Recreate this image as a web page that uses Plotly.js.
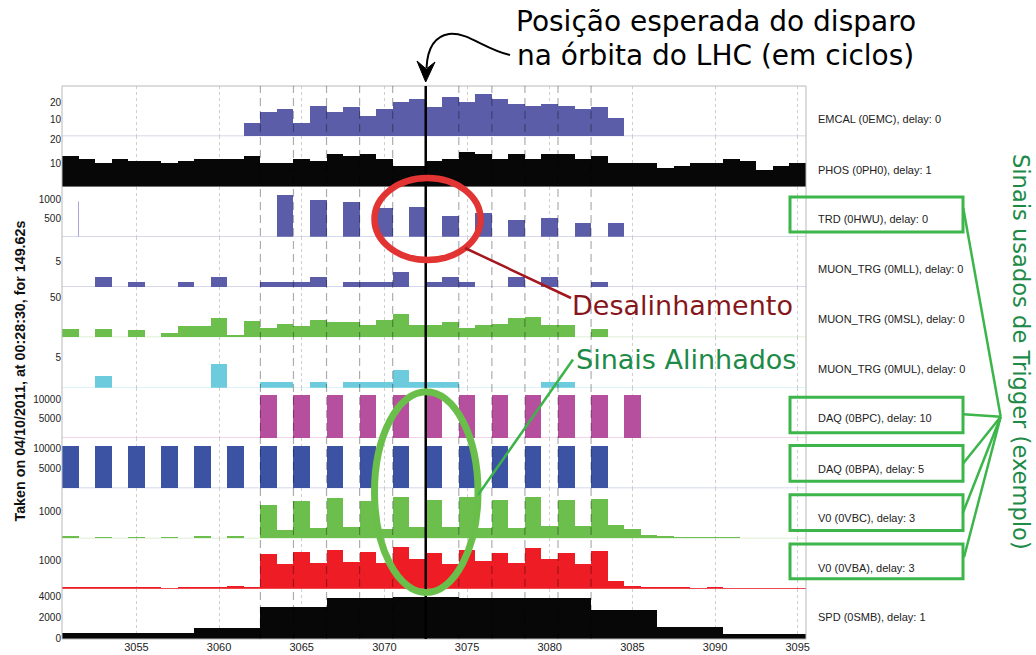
<!DOCTYPE html>
<html>
<head>
<meta charset="utf-8">
<script src="https://cdn.plot.ly/plotly-3.0.1.min.js"></script>
<style>
html,body{margin:0;padding:0;background:#ffffff;}
#chart{width:1036px;height:655px;}
</style>
</head>
<body>
<div id="chart"></div>
<script>
// ---------------- DATA ----------------
const cycles = [3051,3052,3053,3054,3055,3056,3057,3058,3059,3060,3061,3062,3063,3064,3065,3066,3067,3068,3069,3070,3071,3072,3073,3074,3075,3076,3077,3078,3079,3080,3081,3082,3083,3084,3085,3086,3087,3088,3089,3090,3091,3092,3093,3094,3095];
const xTicks = [3055,3060,3065,3070,3075,3080,3085,3090,3095];

const emcal   = [0,0,0,0,0,0,0,0,0,0, 0,8,14,16,8,18,14,17,12,16, 20,22,17,23,20,25,22,19,18,19, 18,16,17,11,0,0,0,0,0,0, 0,0,0,0,0];
const phos    = [13,12,10,12,11,11,10,11,12,12, 12,13,10,10,12,11,14,13,14,12, 9,9,11,12,15,14,12,14,12,14, 14,12,13,10,10,10,8,9,10,10, 12,11,7,9,10];
const trd     = [0,0,0,0,0,0,0,0,0,0, 0,0,0,1115,0,975,0,940,0,765, 0,790,0,560,0,630,0,450,0,500, 0,370,0,375,0,0,0,0,0,0, 0,0,0,0,0];
const trdSpikeX = [3051.5, 3051.5];
const trdSpikeY = [0, 940];
const muonMLL = [0,0,2,0,1,0,0,1,0,2, 0,0,1,1,1,2,0,1,1,1, 3,0,1,2,1,0,0,2,0,2, 0,0,1,0,0,0,0,0,0,0, 0,0,0,0,0];
const muonMSL = [11,0,11,0,9,0,6,14,14,24, 3,20,12,17,14,22,19,19,16,22, 30,15,15,19,12,15,17,25,26,16, 16,1,11,0,1,1,0,0,0,0, 0,0,0,0,0];
const muonMUL = [0,0,2,0,0,0,0,0,0,4, 0,0,1,1,0,1,0,1,1,1, 3,1,1,1,0,0,0,0,0,1, 1,0,0,0,0,0,0,0,0,0, 0,0,0,0,0];
const daqBPC  = [0,0,0,0,0,0,0,0,0,0, 0,0,11100,0,11100,0,11100,0,11100,0, 11100,0,11100,0,11100,0,11100,0,11100,0, 11100,0,11100,0,11100,0,0,0,0,0, 0,0,0,0,0];
const daqBPA  = [10575,0,10575,0,10575,0,10575,0,10575,0, 10575,0,10575,0,10575,0,10575,0,10575,0, 10575,0,10575,0,10575,0,10575,0,10575,0, 10575,0,10575,0,0,0,0,0,0,0, 0,0,0,0,0];
const v0VBC   = [75,12,50,10,50,10,50,10,75,10, 90,10,1250,325,1400,375,1510,425,1400,350, 1560,425,1425,425,1550,400,1425,400,1560,460, 1425,460,1460,490,340,140,90,60,50,50, 40,30,30,30,30];
const v0VBA   = [72,48,48,60,60,48,36,60,60,60, 84,60,1230,890,1310,930,1385,950,1300,915, 1495,1050,1290,890,1400,1005,1278,920,1470,1050, 1290,870,1360,265,96,72,48,48,36,48, 36,36,36,36,36];
const spd     = [590,590,590,590,560,560,560,560,990,990, 990,990,2960,2960,2960,2960,3850,3850,3850,3850, 3880,3880,3880,3880,3850,3850,3850,3850,3850,3850, 3850,3850,2680,2680,2680,2680,1080,1080,1080,1080, 510,510,510,510,510];

const panelLabels = [
  "EMCAL (0EMC), delay: 0",
  "PHOS (0PH0), delay: 1",
  "TRD (0HWU), delay: 0",
  "MUON_TRG (0MLL), delay: 0",
  "MUON_TRG (0MSL), delay: 0",
  "MUON_TRG (0MUL), delay: 0",
  "DAQ (0BPC), delay: 10",
  "DAQ (0BPA), delay: 5",
  "V0 (0VBC), delay: 3",
  "V0 (0VBA), delay: 3",
  "SPD (0SMB), delay: 1"
];
const yTickVals = [[10,20],[10,20],[500,1000],[5],[50],[5],[5000,10000],[5000,10000],[1000],[1000],[0,2000,4000]];
const yTickText = [["10","20"],["10","20"],["500","1000"],["5"],["50"],["5"],["5000","10000"],["5000","10000"],["1000"],["1000"],["0","2000","4000"]];
const boundaryMarks = [3062.5,3064.5,3066.5,3068.5,3070.5,3074.5,3076.5,3078.5,3080.5,3082.5];
const expectedTrigger = 3072.5;

const titleLine1 = "Posição esperada do disparo";
const titleLine2 = "na órbita do LHC (em ciclos)";
const misalignText = "Desalinhamento";
const alignText = "Sinais Alinhados";
const triggerText = "Sinais usados de Trigger (exemplo)";
const takenText = "Taken on 04/10/2011, at 00:28:30, for 149.62s";

// ---------------- STYLE / LAYOUT ----------------
const series = [emcal, phos, trd, muonMLL, muonMSL, muonMUL, daqBPC, daqBPA, v0VBC, v0VBA, spd];
const colors = ['#5b5da8','#070707','#5b5da8','#5b5da8','#6cbf4c','#6ccbdc','#b6509e','#3c53a3','#6cbf4c','#ee1c25','#070707'];
const baseColors = ['#cbcbe6','#bbbbbb','#cbcbe6','#cbcbe6','#d3eacb','#d2eff5','#ecc9e3','#c6cde6','#d3eacb','#f6c6c6','#bbbbbb'];
const yRanges = [[0,29.5],[0,21.6],[0,1340],[0,9.9],[0,63.3],[0,8.4],[0,13020],[0,12600],[0,1876],[0,1795],[0,4700]];
const labelY = [119.3,170,219,269,319.3,369,418,469,518.3,568.3,617.3];

const L = 62, T = 86, W = 744, H = 553;
const px = v => (v - L) / W;
const py = v => (T + H - v) / H;
const yId = i => i === 0 ? 'y' : 'y' + (i + 1);
const yKey = i => i === 0 ? 'yaxis' : 'yaxis' + (i + 1);
const n = series.length;

const traces = series.map((s, i) => ({
  type: 'bar', x: cycles, y: s, xaxis: 'x', yaxis: yId(i), width: 1,
  marker: {color: colors[i], line: {width: 0}},
  hoverinfo: 'skip', showlegend: false
}));
traces.push({type:'scatter', mode:'lines', x: trdSpikeX, y: trdSpikeY, xaxis:'x', yaxis:'y3',
  line:{color:'#a3a5d4', width:1}, hoverinfo:'skip', showlegend:false});

const layout = {
  width: 1036, height: 655,
  margin: {l: L, r: 1036 - L - W, t: T, b: 655 - T - H, pad: 0},
  paper_bgcolor: '#ffffff', plot_bgcolor: 'rgba(0,0,0,0)',
  bargap: 0, showlegend: false,
  font: {family: 'Liberation Sans, Arial, sans-serif', color: '#222'},
  xaxis: {
    range: [3050.5, 3095.5], anchor: 'y11', domain: [0, 1],
    tickvals: xTicks, ticktext: xTicks.map(String), ticks: '',
    showgrid: true, gridcolor: '#cfcfcf', griddash: 'dot', gridwidth: 1,
    zeroline: false, showline: false,
    tickfont: {family: 'Liberation Sans, Arial, sans-serif', size: 11, color: '#222'},
    fixedrange: true
  },
  shapes: [], annotations: []
};

for (let i = 0; i < n; i++) {
  layout[yKey(i)] = {
    domain: [1 - (i + 1) / n, 1 - i / n], range: yRanges[i], anchor: 'x',
    tickvals: yTickVals[i], ticktext: yTickText[i], ticks: '',
    showgrid: false, zeroline: false, showline: false, fixedrange: true,
    tickfont: {family: 'Liberation Sans, Arial, sans-serif', size: 10, color: '#222'}
  };
  layout.shapes.push({type:'line', xref:'paper', yref:yId(i), x0:0, x1:1, y0:0, y1:0,
    line:{color: baseColors[i], width: 1.5}, layer:'below'});
  layout.annotations.push({text: panelLabels[i], xref:'paper', yref:'paper',
    x: px(816.5), y: py(labelY[i]), xanchor:'left', yanchor:'middle', showarrow:false, borderpad:0,
    font:{family:'Liberation Sans, Arial, sans-serif', size:11, color:'#222'}});
}

// frame
layout.shapes.push({type:'rect', xref:'paper', yref:'paper', x0:0, x1:1, y0:0, y1:1,
  line:{color:'#b8b8b8', width:1}, layer:'above'});
// bunch boundaries
boundaryMarks.forEach(b => layout.shapes.push({type:'line', xref:'x', yref:'paper', x0:b, x1:b, y0:0, y1:1,
  line:{color:'rgba(0,0,0,0.32)', width:1.2, dash:'8px,5px'}, layer:'above'}));
// expected trigger position
layout.shapes.push({type:'line', xref:'x', yref:'paper', x0:expectedTrigger, x1:expectedTrigger, y0:0, y1:1,
  line:{color:'#000', width:2.5}});

// red ellipse + connector
layout.shapes.push({type:'circle', xref:'paper', yref:'paper', x0:px(374.5), x1:px(480.5), y0:py(260), y1:py(178),
  line:{color:'#e23432', width:6.5}});
layout.shapes.push({type:'line', xref:'paper', yref:'paper', x0:px(465), y0:py(248), x1:px(571), y1:py(298),
  line:{color:'#a3171f', width:2.5}});
// green ellipse + connector
layout.shapes.push({type:'circle', xref:'paper', yref:'paper', x0:px(374.5), x1:px(478), y0:py(592.5), y1:py(391.8),
  line:{color:'#6abf4b', width:7}});
layout.shapes.push({type:'line', xref:'paper', yref:'paper', x0:px(478), y0:py(495), x1:px(573), y1:py(359.5),
  line:{color:'#3cb44a', width:2.5}});

// green boxes + connectors
const boxY = [[197,232],[397.3,432.8],[445.5,481.3],[494.7,530.5],[544,578.8]];
const boxLineStart = [[963.3,208.3],[963.3,414.3],[963.3,463.3],[962.7,513.3],[964,557.3]];
const hub = [1000.7, 416.7];
boxY.forEach(b => layout.shapes.push({type:'rect', xref:'paper', yref:'paper', x0:px(790), x1:px(963), y0:py(b[1]), y1:py(b[0]),
  line:{color:'#3cb54a', width:3}}));
boxLineStart.forEach(s => layout.shapes.push({type:'line', xref:'paper', yref:'paper', x0:px(s[0]), y0:py(s[1]), x1:px(hub[0]), y1:py(hub[1]),
  line:{color:'#3cb54a', width:2.5}}));

// curved arrow
const P = (x, y) => px(x) + ',' + py(y);
layout.shapes.push({type:'path', xref:'paper', yref:'paper',
  path: 'M ' + P(510,55) + ' C ' + P(484,49) + ' ' + P(468,32) + ' ' + P(449,34) + ' C ' + P(436,36) + ' ' + P(427.5,47) + ' ' + P(426.5,68),
  line:{color:'#000', width:2}});
layout.shapes.push({type:'path', xref:'paper', yref:'paper',
  path: 'M ' + P(425.7,82) + ' L ' + P(417,61) + ' L ' + P(426.3,69) + ' L ' + P(435,62) + ' Z',
  fillcolor:'#000', line:{color:'#000', width:1}});

// texts
const big = {family:'DejaVu Sans, Verdana, sans-serif', size:28, color:'#000'};
layout.annotations.push({text:titleLine1, xref:'paper', yref:'paper', x:px(515), y:py(21.5), xanchor:'left', yanchor:'middle', showarrow:false, borderpad:0, font:big});
layout.annotations.push({text:titleLine2, xref:'paper', yref:'paper', x:px(515.5), y:py(55), xanchor:'left', yanchor:'middle', showarrow:false, borderpad:0, font:big});
layout.annotations.push({text:misalignText, xref:'paper', yref:'paper', x:px(570.5), y:py(305.7), xanchor:'left', yanchor:'middle', showarrow:false, borderpad:0,
  font:{family:'DejaVu Sans, Verdana, sans-serif', size:27, color:'#87161b'}});
layout.annotations.push({text:alignText, xref:'paper', yref:'paper', x:px(575), y:py(359), xanchor:'left', yanchor:'middle', showarrow:false, borderpad:0,
  font:{family:'DejaVu Sans, Verdana, sans-serif', size:27, color:'#1d8a48'}});
layout.annotations.push({text:triggerText, xref:'paper', yref:'paper', x:px(1021), y:py(352), xanchor:'center', yanchor:'middle', textangle:90, showarrow:false, borderpad:0,
  font:{family:'DejaVu Sans, Verdana, sans-serif', size:22.6, color:'#1d8a48'}});
layout.annotations.push({text:'<b>' + takenText + '</b>', xref:'paper', yref:'paper', x:px(20), y:py(371.5), xanchor:'center', yanchor:'middle', textangle:-90, showarrow:false, borderpad:0,
  font:{family:'Liberation Sans, Arial, sans-serif', size:14.3, color:'#111'}});

Plotly.newPlot('chart', traces, layout, {displayModeBar:false, staticPlot:true});
</script>
</body>
</html>
